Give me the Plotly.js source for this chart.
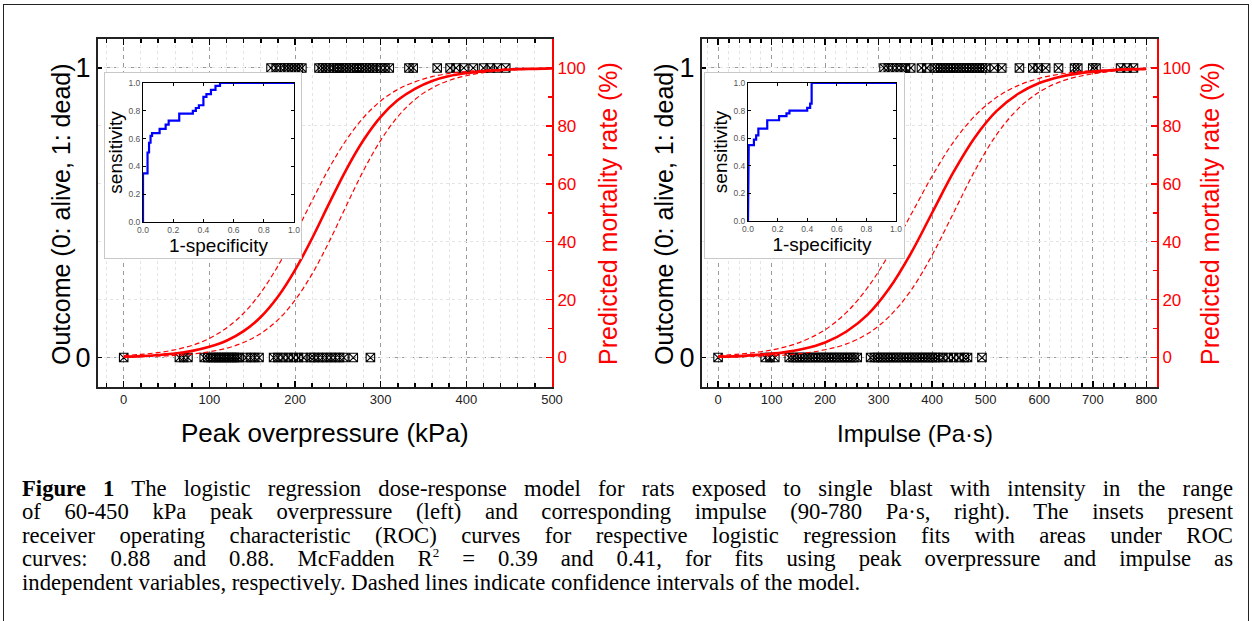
<!DOCTYPE html>
<html>
<head>
<meta charset="utf-8">
<script src="https://cdn.plot.ly/plotly-3.0.1.min.js"></script>
<style>
  html, body { margin:0; padding:0; background:#fff; }
  body { width:1252px; height:621px; position:relative; overflow:hidden; }
  #frame { position:absolute; left:3px; top:4px; width:1244px; height:640px; border:1.5px solid #222; }
  #main { position:absolute; left:0; top:0; width:1252px; height:470px; }
  .inset { position:absolute; background:#fff; border:1px solid #c8c8c8; }
  #insetP { left:104px; top:72px; width:196px; height:185px; }
  #insetI { left:704px; top:72px; width:199px; height:185px; }
  #caption { position:absolute; left:22px; top:477px; width:1211px; font-family:"Liberation Serif","Times New Roman",serif; font-size:22.7px; line-height:23.4px; color:#000; }
  #caption div { text-align:justify; text-align-last:justify; white-space:nowrap; }
  #caption div.last { text-align-last:left; }
</style>
</head>
<body>
<div id="frame"></div>
<div id="main"></div>
<div id="insetP" class="inset"></div>
<div id="insetI" class="inset"></div>
<div id="caption">
  <div><b>Figure 1</b> The logistic regression dose-response model for rats exposed to single blast with intensity in the range</div>
  <div>of 60-450 kPa peak overpressure (left) and corresponding impulse (90-780 Pa·s, right). The insets present</div>
  <div>receiver operating characteristic (ROC) curves for respective logistic regression fits with areas under ROC</div>
  <div>curves: 0.88 and 0.88. McFadden R<sup style="font-size:13px;line-height:0">2</sup> = 0.39 and 0.41, for fits using peak overpressure and impulse as</div>
  <div class="last">independent variables, respectively. Dashed lines indicate confidence intervals of the model.</div>
</div>
<script>
// ---------------- DATA ----------------
// Left panel: peak overpressure (kPa)
const pressureDead = [172,178,183,188,192,196,200,204,208,228,232,236,240,245,249,252,256,260,264,268,272,275,279,283,287,291,295,300,305,310,333,338,366,381,388,397,408,420,428,436,446];
const pressureAlive = [0,65,70,75,94,98,102,105,108,111,114,117,120,123,126,129,132,135,143,148,153,158,175,180,186,192,198,204,210,218,222,227,232,237,242,247,252,257,268,288];
const pressureGrid = [0,20,40,60,80,100,120,140,160,180,200,220,240,260,280,300,320,340,360,380,400,420,440,460,480,500];
const pressureFit   = [0.3,0.5,0.9,1.4,2.3,3.7,5.8,9.1,14.0,21.0,30.2,41.2,53.3,65.0,75.1,83.1,88.9,92.8,95.5,97.2,98.2,98.9,99.3,99.6,99.7,99.8];
const pressureUpper = [0.7,1.1,1.7,2.7,4.2,6.6,10.2,15.3,22.4,31.6,42.6,54.2,65.5,75.2,82.9,88.6,92.6,95.2,97.0,98.1,98.8,99.2,99.5,99.7,99.8,99.9];
const pressureLower = [0.2,0.3,0.5,0.7,1.2,2.0,3.2,5.2,8.3,13.0,19.8,28.9,40.1,52.5,64.6,75.0,83.2,89.1,93.1,95.7,97.3,98.4,99.0,99.4,99.6,99.8];

// Right panel: impulse (Pa·s)
const impulseDead = [310,318,326,334,342,350,360,380,390,404,410,416,422,428,434,440,446,452,458,464,470,476,482,488,494,500,516,530,563,588,598,612,636,666,672,700,706,752,764,776];
const impulseAlive = [0,88,97,106,133,140,146,152,158,164,170,176,182,188,194,200,206,212,218,224,230,236,242,248,254,260,285,292,298,304,310,316,322,328,334,340,346,352,358,364,370,376,382,388,394,400,406,412,420,430,440,450,460,466,493];
const impulseGrid = [0,40,80,120,160,200,240,280,320,360,400,440,480,520,560,600,640,680,720,760,800];
const impulseFit   = [0.3,0.5,1.0,1.7,3.0,5.2,9.0,14.9,23.9,35.9,50.0,64.1,76.1,85.1,91.0,94.8,97.0,98.3,99.0,99.5,99.7];
const impulseUpper = [0.7,1.2,2.0,3.4,5.8,9.6,15.6,24.3,35.8,49.2,62.7,74.5,83.5,89.8,93.9,96.4,97.9,98.8,99.3,99.6,99.8];
const impulseLower = [0.1,0.3,0.5,0.8,1.5,2.7,4.7,8.3,14.2,23.1,35.4,50.0,64.6,76.9,85.8,91.7,95.3,97.3,98.5,99.2,99.5];

// ROC curves (1-specificity, sensitivity)
const rocPressureFpr = [0,0,0.03,0.03,0.04,0.04,0.05,0.05,0.06,0.06,0.11,0.11,0.15,0.15,0.17,0.17,0.24,0.24,0.33,0.33,0.35,0.35,0.37,0.37,0.40,0.40,0.42,0.42,0.45,0.45,0.48,0.48,0.51,0.51,1.0];
const rocPressureTpr = [0,0.35,0.35,0.50,0.50,0.57,0.57,0.62,0.62,0.64,0.64,0.67,0.67,0.70,0.70,0.73,0.73,0.78,0.78,0.80,0.80,0.82,0.82,0.84,0.84,0.90,0.90,0.92,0.92,0.95,0.95,0.98,0.98,1.0,1.0];
const rocImpulseFpr = [0,0,0.005,0.005,0.04,0.04,0.055,0.055,0.07,0.07,0.13,0.13,0.21,0.21,0.26,0.26,0.28,0.28,0.40,0.40,0.42,0.42,0.43,0.43,1.0];
const rocImpulseTpr = [0,0.30,0.30,0.55,0.55,0.59,0.59,0.62,0.62,0.67,0.67,0.73,0.73,0.76,0.76,0.78,0.78,0.80,0.80,0.82,0.82,0.85,0.85,1.0,1.0];

const outcomeTicks = [0, 1];
const mortalityTicks = [0, 20, 40, 60, 80, 100];
const rocTicks = [0, 0.2, 0.4, 0.6, 0.8, 1.0];
const rocTickText = ['0.0','0.2','0.4','0.6','0.8','1.0'];

// ---------------- STYLE ----------------
const FONT = 'Liberation Sans, Arial, sans-serif';
const RED = '#ff0000';
const W = 1252, H = 470;
function pyFrac(py) { return 1 - py / H; }
const yDom = [pyFrac(386.5), pyFrac(39)];

function marker() {
  return { symbol: 'square-x-open', size: 8.5, color: '#000', line: { width: 1.1, color: '#000' } };
}
function ones(arr, v) { return arr.map(() => v); }

const traces = [
  { x: pressureDead, y: ones(pressureDead, 1), xaxis: 'x', yaxis: 'y', mode: 'markers', marker: marker() },
  { x: pressureAlive, y: ones(pressureAlive, 0), xaxis: 'x', yaxis: 'y', mode: 'markers', marker: marker() },
  { x: pressureGrid, y: pressureUpper, xaxis: 'x', yaxis: 'y2', mode: 'lines', line: { color: RED, width: 1.2, dash: '5px,3px', shape: 'spline' } },
  { x: pressureGrid, y: pressureLower, xaxis: 'x', yaxis: 'y2', mode: 'lines', line: { color: RED, width: 1.2, dash: '5px,3px', shape: 'spline' } },
  { x: pressureGrid, y: pressureFit, xaxis: 'x', yaxis: 'y2', mode: 'lines', line: { color: RED, width: 2.6, shape: 'spline' } },
  { x: impulseDead, y: ones(impulseDead, 1), xaxis: 'x2', yaxis: 'y3', mode: 'markers', marker: marker() },
  { x: impulseAlive, y: ones(impulseAlive, 0), xaxis: 'x2', yaxis: 'y3', mode: 'markers', marker: marker() },
  { x: impulseGrid, y: impulseUpper, xaxis: 'x2', yaxis: 'y4', mode: 'lines', line: { color: RED, width: 1.2, dash: '5px,3px', shape: 'spline' } },
  { x: impulseGrid, y: impulseLower, xaxis: 'x2', yaxis: 'y4', mode: 'lines', line: { color: RED, width: 1.2, dash: '5px,3px', shape: 'spline' } },
  { x: impulseGrid, y: impulseFit, xaxis: 'x2', yaxis: 'y4', mode: 'lines', line: { color: RED, width: 2.6, shape: 'spline' } }
];

function xAxis(domain, range, anchor) {
  return {
    domain: domain, range: range, anchor: anchor,
    tickmode: 'linear', tick0: 0, dtick: 100,
    ticks: 'inside', ticklen: 6, tickwidth: 1.5, tickcolor: '#000',
    showline: true, linecolor: '#222', linewidth: 2, mirror: 'ticks',
    showgrid: true, gridcolor: '#9a9a9a', gridwidth: 1, griddash: '4px,4px',
    minor: { dtick: 20, ticks: 'inside', ticklen: 4, tickcolor: '#000', showgrid: true, gridcolor: '#e4e4e4', griddash: 'dot', gridwidth: 1 },
    zeroline: false,
    tickfont: { family: FONT, size: 13, color: '#222' },
    automargin: false, fixedrange: true
  };
}
function yLeft(anchor) {
  return {
    domain: yDom, range: [-0.1, 1.1], anchor: anchor,
    tickvals: outcomeTicks, ticktext: ['0', '1'],
    ticks: 'inside', ticklen: 4, tickwidth: 1.5, tickcolor: '#000',
    showline: true, linecolor: '#222', linewidth: 2, mirror: false,
    showgrid: true, gridcolor: '#9a9a9a', griddash: '4px,4px', gridwidth: 1,
    zeroline: false,
    tickfont: { family: FONT, size: 27, color: '#000' },
    automargin: false, fixedrange: true
  };
}
function yRight(overlay, anchor) {
  return {
    overlaying: overlay, side: 'right', anchor: anchor, range: [-10, 110],
    tickvals: mortalityTicks,
    ticks: 'inside', ticklen: 6, tickwidth: 1.5, tickcolor: RED,
    minor: { dtick: 10, tick0: 0, ticks: 'inside', ticklen: 4, tickcolor: RED, showgrid: false },
    showline: true, linecolor: RED, linewidth: 2,
    showgrid: true, gridcolor: '#e4e4e4', griddash: 'dot', gridwidth: 1,
    zeroline: false,
    tickfont: { family: FONT, size: 17, color: RED },
    automargin: false, fixedrange: true
  };
}

function vTitle(text, px, color) {
  return { text: text, xref: 'paper', yref: 'paper', x: px / W, y: 1 - 214 / H, xanchor: 'center', yanchor: 'middle',
    textangle: -90, showarrow: false, font: { family: FONT, size: 25, color: color } };
}
function hTitle(text, px, size) {
  return { text: text, xref: 'paper', yref: 'paper', x: px / W, y: 1 - 433 / H, xanchor: 'center', yanchor: 'middle',
    showarrow: false, font: { family: FONT, size: size, color: '#000' } };
}

const layout = {
  width: W, height: H,
  margin: { l: 0, r: 0, t: 0, b: 0 },
  paper_bgcolor: 'rgba(0,0,0,0)', plot_bgcolor: 'rgba(0,0,0,0)',
  showlegend: false,
  font: { family: FONT },
  xaxis: xAxis([98 / W, 552 / W], [-30, 500], 'y'),
  yaxis: yLeft('x'),
  yaxis2: yRight('y', 'x'),
  xaxis2: xAxis([702 / W, 1157 / W], [-30, 820], 'y3'),
  yaxis3: yLeft('x2'),
  yaxis4: yRight('y3', 'x2'),
  annotations: [
    vTitle('Outcome (0: alive, 1: dead)', 61, '#000'),
    vTitle('Predicted mortality rate (%)', 608, RED),
    vTitle('Outcome (0: alive, 1: dead)', 664, '#000'),
    vTitle('Predicted mortality rate (%)', 1210, RED),
    hTitle('Peak overpressure (kPa)', 325, 26),
    hTitle('Impulse (Pa·s)', 915, 24)
  ]
};

Plotly.newPlot('main', traces, layout, { staticPlot: true, displayModeBar: false });

// ---------------- INSETS ----------------
function insetLayout(w, margin) {
  const ax = {
    range: [0, 1], tickvals: rocTicks, ticktext: rocTickText,
    ticks: 'inside', ticklen: 3, tickcolor: '#000', tickwidth: 1,
    showline: true, linecolor: '#000', linewidth: 1, mirror: 'ticks',
    showgrid: false, zeroline: false,
    tickfont: { family: FONT, size: 8.5, color: '#555' },
    automargin: false, fixedrange: true
  };
  return {
    width: w, height: 185, margin: margin,
    paper_bgcolor: '#fff', plot_bgcolor: '#fff', showlegend: false,
    xaxis: Object.assign({}, ax, { title: { text: '1-specificity', font: { family: FONT, size: 19, color: '#000' }, standoff: 0 } }),
    yaxis: Object.assign({}, ax, { title: { text: 'sensitivity', font: { family: FONT, size: 19, color: '#000' }, standoff: 0 } })
  };
}
Plotly.newPlot('insetP', [{ x: rocPressureFpr, y: rocPressureTpr, mode: 'lines', line: { color: '#0000ff', width: 2.2 } }],
  insetLayout(196, { l: 38, r: 7, t: 10, b: 36 }), { staticPlot: true, displayModeBar: false });
Plotly.newPlot('insetI', [{ x: rocImpulseFpr, y: rocImpulseTpr, mode: 'lines', line: { color: '#0000ff', width: 2.2 } }],
  insetLayout(199, { l: 43, r: 8, t: 10, b: 37 }), { staticPlot: true, displayModeBar: false });
</script>
</body>
</html>
